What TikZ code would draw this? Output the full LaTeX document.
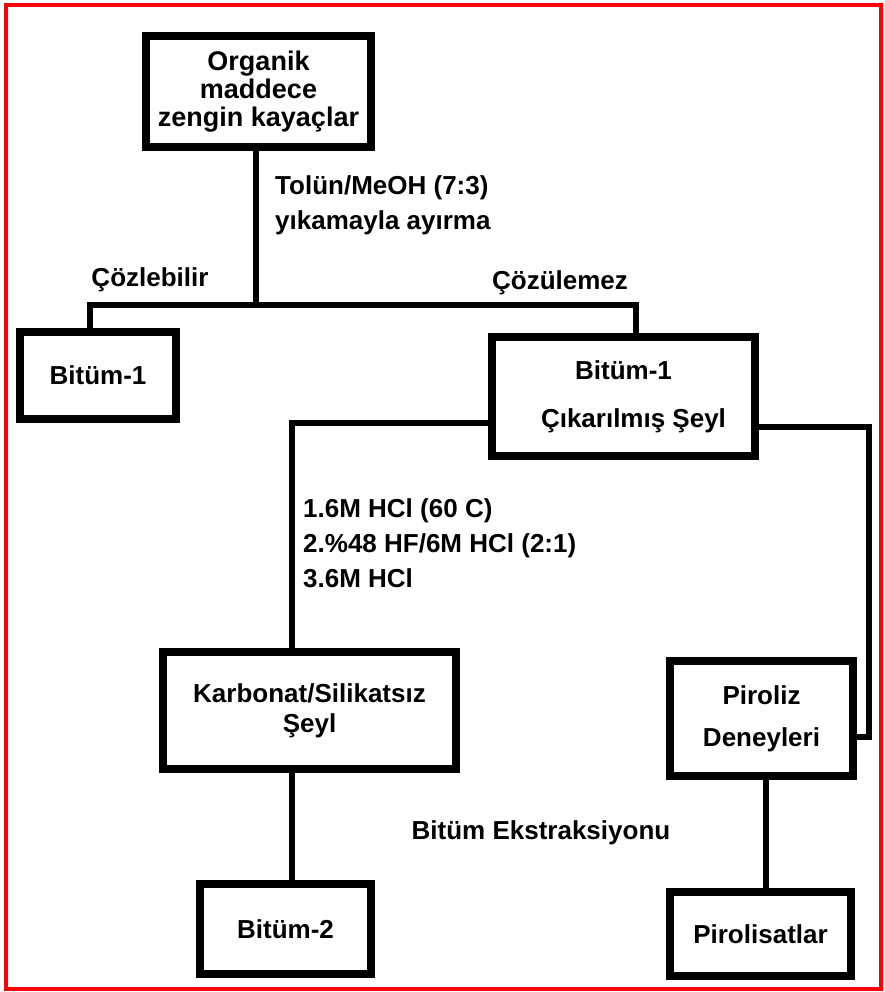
\documentclass[tikz,border=0pt]{standalone}
\usepackage{fontspec}
\setmainfont{Liberation Sans}
\usetikzlibrary{positioning,calc}
\definecolor{FrameRed}{HTML}{FF0000}
\definecolor{InkBlack}{HTML}{000000}
\tikzset{
  box/.style={draw=InkBlack, line width=8pt, fill=white, align=center,
              inner sep=0pt, font=\bfseries\fontsize{26}{30}\selectfont},
  link/.style={draw=InkBlack, line width=6pt},
  note/.style={inner sep=0pt, align=left, font=\bfseries\fontsize{26}{35}\selectfont},
}

\begin{document}
\begin{tikzpicture}[x=1pt, y=-1pt]
  \useasboundingbox (0,0) rectangle (885,992);
  \draw[FrameRed, line width=4pt] (6,5) rectangle (881,989);

  % boxes
  \node[box, minimum width=225pt, minimum height=111pt,
        font=\bfseries\fontsize{27}{28}\selectfont] (rock) at (258.5,91.5)
        {Organik\\maddece\\zengin kayaçlar};
  \node[box, minimum width=156pt, minimum height=87pt] (bit1) at (98,375.5) {Bitüm-1};
  \node[box, minimum width=263pt, minimum height=119pt] (shale) at (623.5,396.5)
        {Bitüm-1\\[18pt]\hspace{20pt}Çıkarılmış Şeyl};
  \node[box, minimum width=293pt, minimum height=117pt] (carb) at (309.5,710.5)
        {Karbonat/Silikatsız\\Şeyl};
  \node[box, minimum width=171pt, minimum height=90pt] (bit2) at (285.5,929) {Bitüm-2};
  \node[box, minimum width=183pt, minimum height=115pt] (pyro) at (761.5,718.5)
        {Piroliz\\[12pt]Deneyleri};
  \node[box, minimum width=181pt, minimum height=84pt] (pyrs) at (760.5,934) {Pirolisatlar};

  % connectors
  \coordinate (jl) at (90,305);
  \coordinate (jr) at (636,305);
  \coordinate (rr) at (869,737);
  \draw[link] ([xshift=-3pt]rock.south) -- ([xshift=-3pt]rock.south |- jl);
  \draw[link] (jl |- bit1.north) -- (jl) -- (jr) -- (jr |- shale.north);
  \draw[link] ([yshift=-26pt]shale.west) -| ([xshift=-18pt]carb.north);
  \draw[link] ([yshift=-30pt]shale.east) -| (rr) -- (rr -| pyro.east);
  \draw[link] ([xshift=-18pt]carb.south) -- ([xshift=-18pt]carb.south |- bit2.north);
  \draw[link] ([xshift=4pt]pyro.south) -- ([xshift=4pt]pyro.south |- pyrs.north);

  % labels
  \node[note, anchor=west] (wash) at (275,205) {Tolün/MeOH (7:3)\\yıkamayla ayırma};
  \node[note] (sol) at (150,280) {Çözlebilir};
  \node[note] (insol) at (560,283) {Çözülemez};
  \node[note, anchor=west] (acid) at (303,543)
        {1.6M HCl (60 C)\\2.\%48 HF/6M HCl (2:1)\\3.6M HCl};
  \node[note] (extr) at (541,833) {Bitüm Ekstraksiyonu};
\end{tikzpicture}
\end{document}
